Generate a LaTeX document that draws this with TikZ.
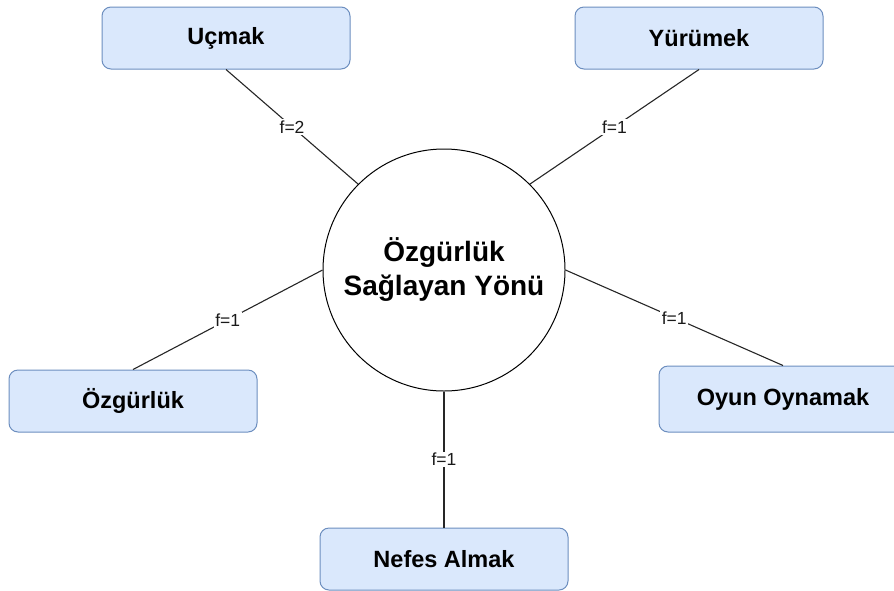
\documentclass[tikz,border=0pt]{standalone}
\usepackage{fontspec}
\setmainfont{Liberation Sans}
\usetikzlibrary{positioning}
\definecolor{boxfill}{HTML}{DAE8FC}
\definecolor{boxline}{HTML}{6C8EBF}
\tikzset{
    block/.style = {draw=boxline, fill=boxfill, rectangle, rounded corners=9pt,
        minimum height=62pt,
        minimum width=248pt, align=center, line width=1pt,
        font=\fontsize{23.5}{27}\selectfont\bfseries},
    hub/.style = {draw, circle, minimum size=242pt, align=center, line width=1pt,
        font=\fontsize{28}{34}\selectfont\bfseries},
    link/.style = {draw, black!85, line width=1.1pt},
    weight/.style = {fill=white, inner sep=1.5pt, text=black!90,
        font=\fontsize{17.5}{20}\selectfont}
}

\begin{document}
\begin{tikzpicture}[x=1pt, y=-1pt]
        \useasboundingbox (0,0) rectangle (894,590);
        \node [hub] (hub) at (444,270) {Özgürlük\\Sağlayan Yönü};
        \node [block] (ucmak) at (226,38) {Uçmak};
        \node [block] (yurumek) at (699,38) {Yürümek};
        \node [block] (ozgurluk) at (133,401) {Özgürlük};
        \node [block, minimum height=66pt] (oyun) at (783,399) {Oyun Oynamak};
        \node [block] (nefes) at (444,559) {Nefes Almak};
        % kenarlar
        \draw [link] (ucmak.south) -- node [weight] {f=2} (hub.135);
        \draw [link] (yurumek.south) -- node [weight] {f=1} (hub.45);
        \draw [link] (ozgurluk.north) -- node [weight] {f=1} (hub.180);
        \draw [link] (oyun.north) -- node [weight] {f=1} (hub.0);
        \draw [link] (nefes.north) -- node [weight] {f=1} (hub.270);
    \end{tikzpicture}
\end{document}
